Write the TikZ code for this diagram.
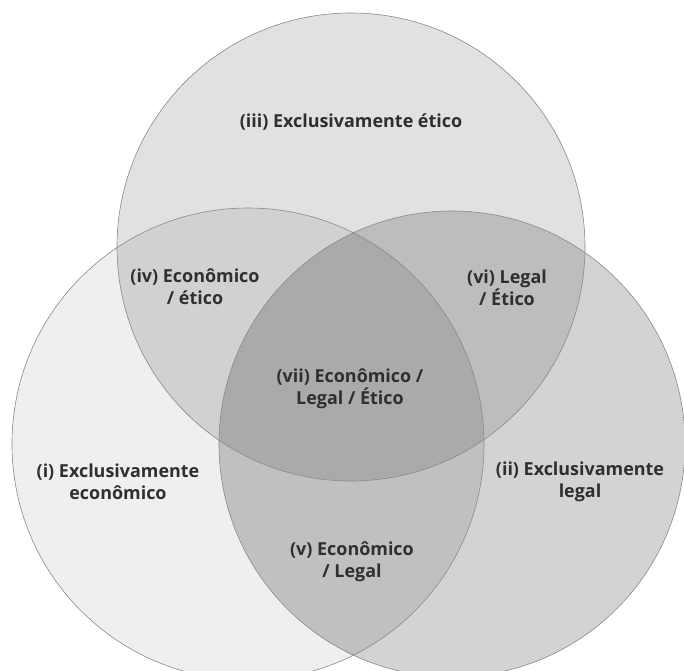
\documentclass[tikz,border=0pt]{standalone}
\usepackage{fontspec}
\setmainfont{Open Sans}
\definecolor{cL}{HTML}{EFEFEF}
\definecolor{cT}{HTML}{E1E1E1}
\definecolor{cR}{HTML}{D3D3D3}
\definecolor{cTL}{HTML}{D1D1D1}
\definecolor{cTR}{HTML}{BDBDBD}
\definecolor{cLR}{HTML}{C0C0C0}
\definecolor{cALL}{HTML}{AAAAAA}
\definecolor{edge}{HTML}{8A8A8A}
\definecolor{txt}{HTML}{2F2F2F}
\begin{document}
\begin{tikzpicture}[x=1bp,y=-1bp,
  lbl/.style={align=center,text=txt,inner sep=0pt,
    font=\fontsize{18}{22}\selectfont\bfseries},
  rim/.style={draw=edge,line width=0.6bp}]
\useasboundingbox (0,0) rectangle (684,671);
\clip (0,0) rectangle (684,671);
\fill[white] (0,0) rectangle (684,671);
\coordinate (T) at (351,247);
\coordinate (L) at (248,444);
\coordinate (R) at (452,444);
\def\rT{234bp}\def\rL{236bp}\def\rR{233bp}
% single fills
\fill[cL] (L) circle[radius=\rL];
\fill[cT] (T) circle[radius=\rT];
\fill[cR] (R) circle[radius=\rR];
% pairwise
\begin{scope}\clip (T) circle[radius=\rT]; \fill[cTL] (L) circle[radius=\rL];\end{scope}
\begin{scope}\clip (T) circle[radius=\rT]; \fill[cTR] (R) circle[radius=\rR];\end{scope}
\begin{scope}\clip (L) circle[radius=\rL]; \fill[cLR] (R) circle[radius=\rR];\end{scope}
% triple
\begin{scope}\clip (T) circle[radius=\rT]; \clip (L) circle[radius=\rL]; \fill[cALL] (R) circle[radius=\rR];\end{scope}
% outlines
\draw[rim] (L) circle[radius=\rL];
\draw[rim] (T) circle[radius=\rT];
\draw[rim] (R) circle[radius=\rR];
% labels
\node[lbl] (iii) at (351,122) {(iii) Exclusivamente ético};
\node[lbl] (iv) at (195,287) {(iv) Econômico\\/ ético};
\node[lbl] (vi) at (507,288) {(vi) Legal\\/ Ético};
\node[lbl] (vii) at (350,389) {(vii) Econômico /\\Legal / Ético};
\node[lbl] (i) at (118,482) {(i) Exclusivamente\\econômico};
\node[lbl] (ii) at (580,482) {(ii) Exclusivamente\\legal};
\node[lbl] (v) at (352,562) {(v) Econômico\\/ Legal};
\end{tikzpicture}
\end{document}
